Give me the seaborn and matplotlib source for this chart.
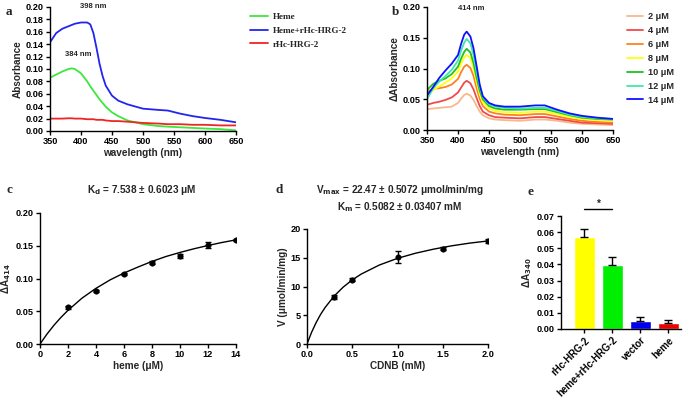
import numpy as np
import pandas as pd
import matplotlib
matplotlib.use("Agg")
import matplotlib.pyplot as plt
import seaborn as sns

# ---- panel a: absorption spectra ----
wl_a = [350, 360, 370, 380, 385, 390, 400, 410, 415, 420, 425, 430, 435, 440,
        450, 460, 475, 500, 525, 540, 560, 580, 600, 625, 650]
heme_a = [0.086, 0.091, 0.096, 0.100, 0.101, 0.100, 0.093, 0.080, 0.072, 0.065,
          0.058, 0.051, 0.045, 0.039, 0.030, 0.024, 0.017, 0.011, 0.008, 0.007,
          0.006, 0.005, 0.004, 0.003, 0.001]
complex_a = [0.143, 0.158, 0.165, 0.169, 0.171, 0.173, 0.175, 0.175, 0.172, 0.158,
             0.134, 0.108, 0.088, 0.073, 0.057, 0.049, 0.043, 0.036, 0.034, 0.033,
             0.028, 0.024, 0.021, 0.018, 0.014]
protein_a = [0.020, 0.020, 0.020, 0.0205, 0.0205, 0.020, 0.020, 0.019, 0.019, 0.019,
             0.018, 0.018, 0.018, 0.017, 0.016, 0.016, 0.015, 0.013, 0.012, 0.011,
             0.011, 0.010, 0.010, 0.009, 0.009]
names_a = ["Heme", "Heme+rHc-HRG-2", "rHc-HRG-2"]
colors_a = ["#3be83b", "#2424f0", "#f02424"]

# ---- panel b: difference spectra ----
wl_b = [350, 360, 370, 380, 390, 400, 405, 410, 414, 420, 425, 430, 435, 440,
        450, 460, 475, 500, 525, 540, 560, 580, 600, 625, 650]
conc_b = ["2 μM", "4 μM", "6 μM", "8 μM", "10 μM", "12 μM", "14 μM"]
spectra_b = [
    [0.034, 0.035, 0.036, 0.037, 0.038, 0.044, 0.051, 0.057, 0.059, 0.056, 0.049, 0.039,
     0.030, 0.024, 0.019, 0.017, 0.016, 0.015, 0.017, 0.017, 0.015, 0.012, 0.010, 0.009, 0.008],
    [0.041, 0.044, 0.046, 0.049, 0.053, 0.061, 0.069, 0.077, 0.080, 0.076, 0.066, 0.052,
     0.039, 0.030, 0.024, 0.021, 0.020, 0.019, 0.021, 0.021, 0.018, 0.015, 0.012, 0.011, 0.010],
    [0.062, 0.067, 0.068, 0.070, 0.074, 0.083, 0.094, 0.103, 0.106, 0.101, 0.088, 0.068,
     0.051, 0.039, 0.030, 0.027, 0.025, 0.024, 0.026, 0.026, 0.022, 0.018, 0.015, 0.013, 0.012],
    [0.058, 0.065, 0.071, 0.077, 0.084, 0.095, 0.108, 0.118, 0.122, 0.117, 0.101, 0.078,
     0.058, 0.045, 0.035, 0.031, 0.029, 0.028, 0.030, 0.030, 0.026, 0.021, 0.018, 0.016, 0.015],
    [0.065, 0.075, 0.080, 0.084, 0.091, 0.103, 0.116, 0.127, 0.132, 0.126, 0.109, 0.085,
     0.064, 0.050, 0.039, 0.035, 0.033, 0.033, 0.034, 0.034, 0.029, 0.024, 0.020, 0.018, 0.017],
    [0.050, 0.068, 0.079, 0.088, 0.098, 0.113, 0.129, 0.142, 0.148, 0.141, 0.122, 0.095,
     0.070, 0.054, 0.042, 0.038, 0.036, 0.035, 0.036, 0.036, 0.031, 0.025, 0.021, 0.019, 0.018],
    [0.056, 0.070, 0.085, 0.097, 0.108, 0.122, 0.140, 0.155, 0.160, 0.152, 0.133, 0.104,
     0.074, 0.055, 0.044, 0.040, 0.038, 0.038, 0.040, 0.040, 0.033, 0.027, 0.023, 0.020, 0.018],
]
colors_b = ["#f7b98c", "#f04a4a", "#ff8020", "#ffff10", "#20c020", "#40e8a8", "#1010ff"]

# ---- panel c: binding ----
heme_c = [2, 4, 6, 8, 10, 12, 14]
dA_c = [0.056, 0.081, 0.107, 0.124, 0.134, 0.151, 0.159]
err_c = [0.002, 0.002, 0.002, 0.002, 0.003, 0.005, 0.002]
fit_x_c = [0, 0.5, 1, 1.5, 2, 3, 4, 5, 6, 7, 8, 9, 10, 11, 12, 13, 14]
fit_y_c = [0, 0.0152, 0.0287, 0.0407, 0.0514, 0.0700, 0.0850, 0.0978, 0.1084,
           0.1175, 0.1261, 0.1336, 0.1398, 0.1454, 0.1504, 0.1550, 0.1590]

# ---- panel d: kinetics ----
cdnb_d = [0.3, 0.5, 1.0, 1.5, 2.0]
v_d = [8.2, 11.2, 15.1, 16.6, 17.9]
err_d = [0.3, 0.3, 1.0, 0.3, 0.3]
fit_x_d = [0, 0.05, 0.1, 0.15, 0.2, 0.3, 0.4, 0.5, 0.6, 0.8, 1.0, 1.2, 1.4, 1.6, 1.8, 2.0]
fit_y_d = [0, 2.01, 3.70, 5.14, 6.35, 8.34, 9.89, 11.15, 12.17, 13.74, 14.90,
           15.79, 16.50, 17.08, 17.55, 17.92]

# ---- panel e: bars ----
labels_e = ["rHc-HRG-2", "heme+rHc-HRG-2", "vector", "heme"]
means_e = [0.057, 0.0395, 0.0052, 0.0038]
err_e = [0.005, 0.005, 0.0025, 0.0016]
colors_e = ["#ffff00", "#00ee00", "#0000ee", "#ee0000"]

sns.set_theme(style="ticks")
plt.rcParams["font.family"] = ["Liberation Sans", "DejaVu Sans"]
plt.rcParams["font.weight"] = "bold"
plt.rcParams["axes.labelweight"] = "bold"
plt.rcParams["axes.linewidth"] = 1.0
plt.rcParams["mathtext.default"] = "bf"

W, H = 685, 400
fig = plt.figure(figsize=(6.85, 4.0), dpi=100)


def px_axes(l, r, t, b):
    return fig.add_axes([l / W, 1 - b / H, (r - l) / W, (b - t) / H])


def style(ax):
    sns.despine(ax=ax)
    for s in ["left", "bottom"]:
        ax.spines[s].set_color("black")
        ax.spines[s].set_linewidth(1.0)
    ax.tick_params(direction="out", length=3, width=1, labelsize=6.6,
                   colors="black", pad=1.5)


def ftext(x, y, s, **kw):
    fig.text(x / W, 1 - y / H, s, **kw)


# panel a
ax = px_axes(50, 236, 7, 131)
df_a = pd.DataFrame({
    "wavelength": wl_a * 3,
    "abs": heme_a + complex_a + protein_a,
    "sample": [n for n in names_a for _ in wl_a],
})
sns.lineplot(data=df_a, x="wavelength", y="abs", hue="sample", hue_order=names_a,
             palette=colors_a, linewidth=1.3, ax=ax)
ax.set_xlim(350, 650)
ax.set_ylim(0, 0.20)
ax.set_xticks(np.arange(350, 651, 50))
ax.set_yticks(np.arange(0, 0.201, 0.02))
ax.yaxis.set_major_formatter(matplotlib.ticker.FormatStrFormatter("%.2f"))
ax.set_xlabel("wavelength (nm)", fontsize=7.2, labelpad=1)
ax.set_ylabel("Absorbance", fontsize=7.2, labelpad=2)
style(ax)
h, l = ax.get_legend_handles_labels()
ax.legend(h, l, loc="upper left", bbox_to_anchor=(250 / W, 1 - 13 / H),
          bbox_transform=fig.transFigure, frameon=False, borderpad=0,
          borderaxespad=0, handlelength=2.0, handletextpad=0.5, labelspacing=0.56,
          prop={"family": "Liberation Serif", "weight": "bold", "size": 6.6})
ftext(93, 7, "398 nm", ha="center", va="center", fontsize=5.5)
ftext(78, 54, "384 nm", ha="center", va="center", fontsize=5.5)
ftext(9, 12, "a", ha="center", va="center", fontsize=9.5,
      family="Liberation Serif", weight="bold")

# panel b
ax = px_axes(427, 613, 7, 130)
df_b = pd.DataFrame({
    "wavelength": wl_b * len(conc_b),
    "dabs": [v for s in spectra_b for v in s],
    "conc": [c for c in conc_b for _ in wl_b],
})
sns.lineplot(data=df_b, x="wavelength", y="dabs", hue="conc", hue_order=conc_b,
             palette=colors_b, linewidth=1.3, ax=ax)
ax.set_xlim(350, 650)
ax.set_ylim(0, 0.20)
ax.set_xticks(np.arange(350, 651, 50))
ax.set_yticks(np.arange(0, 0.201, 0.05))
ax.yaxis.set_major_formatter(matplotlib.ticker.FormatStrFormatter("%.2f"))
ax.set_xlabel("wavelength (nm)", fontsize=7.2, labelpad=1)
ax.set_ylabel("ΔAbsorbance", fontsize=7.2, labelpad=2)
style(ax)
h, l = ax.get_legend_handles_labels()
ax.legend(h, l, loc="upper left", bbox_to_anchor=(627 / W, 1 - 12 / H),
          bbox_transform=fig.transFigure, frameon=False, borderpad=0,
          borderaxespad=0, handlelength=1.7, handletextpad=0.6, labelspacing=0.54,
          prop={"family": "Liberation Sans", "weight": "bold", "size": 6.6})
ftext(471, 9, "414 nm", ha="center", va="center", fontsize=5.5)
ftext(396, 12, "b", ha="center", va="center", fontsize=9.5,
      family="Liberation Serif", weight="bold")

# panel c
ax = px_axes(40, 236, 213, 344)
sns.lineplot(x=fit_x_c, y=fit_y_c, color="black", linewidth=1.0, ax=ax)
ax.errorbar(heme_c, dA_c, yerr=err_c, fmt="none", ecolor="black", elinewidth=1,
            capsize=2.5, capthick=1)
sns.scatterplot(x=heme_c, y=dA_c, color="black", s=16, edgecolor="black",
                linewidth=0.3, ax=ax, zorder=3)
ax.set_xlim(0, 14)
ax.set_ylim(0, 0.20)
ax.set_xticks(np.arange(0, 15, 2))
ax.set_yticks(np.arange(0, 0.201, 0.05))
ax.yaxis.set_major_formatter(matplotlib.ticker.FormatStrFormatter("%.2f"))
ax.set_xlabel("heme (μM)", fontsize=7.2, labelpad=1)
ax.set_ylabel("ΔA$_{414}$", fontsize=7.2, labelpad=2)
style(ax)
ftext(142, 190, "K$_{d}$ = 7.538 ± 0.6023 μM", ha="center", va="center", fontsize=7.2)
ftext(9, 190, "c", ha="center", va="center", fontsize=9.5,
      family="Liberation Serif", weight="bold")

# panel d
ax = px_axes(307, 488, 229, 344)
sns.lineplot(x=fit_x_d, y=fit_y_d, color="black", linewidth=1.0, ax=ax)
ax.errorbar(cdnb_d, v_d, yerr=err_d, fmt="none", ecolor="black", elinewidth=1,
            capsize=2.5, capthick=1)
sns.scatterplot(x=cdnb_d, y=v_d, color="black", s=16, edgecolor="black",
                linewidth=0.3, ax=ax, zorder=3)
ax.set_xlim(0, 2.0)
ax.set_ylim(0, 20)
ax.set_xticks(np.arange(0, 2.01, 0.5))
ax.set_yticks(np.arange(0, 21, 5))
ax.xaxis.set_major_formatter(matplotlib.ticker.FormatStrFormatter("%.1f"))
ax.set_xlabel("CDNB (mM)", fontsize=7.2, labelpad=1)
ax.set_ylabel("V (μmol/min/mg)", fontsize=7.2, labelpad=2)
style(ax)
ftext(400, 190, "V$_{max}$ = 22.47 ± 0.5072 μmol/min/mg", ha="center", va="center",
      fontsize=7.2)
ftext(400, 207, "K$_{m}$ = 0.5082 ± 0.03407 mM", ha="center", va="center", fontsize=7.2)
ftext(279, 190, "d", ha="center", va="center", fontsize=9.5,
      family="Liberation Serif", weight="bold")

# panel e
ax = px_axes(561, 681, 216, 329)
sns.barplot(x=labels_e, y=means_e, hue=labels_e, palette=colors_e, legend=False,
            saturation=1, width=0.75, ax=ax)
ax.errorbar(range(len(labels_e)), means_e, yerr=[[0] * len(err_e), err_e],
            fmt="none", ecolor="black", elinewidth=1, capsize=3, capthick=1)
ax.set_xlim(-0.84, 3.45)
ax.set_ylim(0, 0.07)
ax.set_yticks(np.arange(0, 0.0701, 0.01))
ax.yaxis.set_major_formatter(matplotlib.ticker.FormatStrFormatter("%.2f"))
ax.set_ylabel("ΔA$_{340}$", fontsize=7.2, labelpad=2)
style(ax)
ax.set_xticks(range(len(labels_e)))
ax.set_xticklabels(labels_e, rotation=45, ha="right", rotation_mode="anchor",
                   fontsize=6.9)
ax.plot([0, 1], [0.0743, 0.0743], color="black", linewidth=1, clip_on=False)
ax.text(0.5, 0.0775, "*", ha="center", va="center", fontsize=7)
ftext(531, 192, "e", ha="center", va="center", fontsize=9.5,
      family="Liberation Serif", weight="bold")

fig.savefig("out.png", dpi=100)
